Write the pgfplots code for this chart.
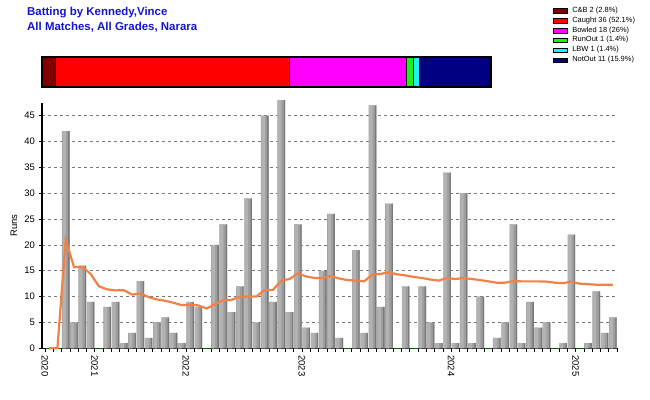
\documentclass[border=0pt]{standalone}
\usepackage{fontspec}
\setmainfont{Liberation Sans}
\usepackage{pgfplots}
\usepackage{pgfplotstable}
\pgfplotsset{compat=1.18}
\definecolor{titleblue}{RGB}{20,20,205}
\definecolor{avgorange}{RGB}{240,130,72}
\definecolor{barL}{RGB}{178,178,178}
\definecolor{barM}{RGB}{158,158,158}
\definecolor{barR}{RGB}{122,122,122}
\definecolor{zerogreen}{RGB}{0,100,0}
\definecolor{gridgray}{RGB}{120,120,120}
\definecolor{cbcol}{RGB}{128,0,0}
\definecolor{caughtcol}{RGB}{255,0,0}
\definecolor{bowledcol}{RGB}{255,0,255}
\definecolor{runoutcol}{RGB}{30,240,30}
\definecolor{lbwcol}{RGB}{30,240,240}
\definecolor{notoutcol}{RGB}{0,0,128}
\pgfplotstableread{
x runs
0 0
1 0
2 42
3 5
4 16
5 9
6 0
7 8
8 9
9 1
10 3
11 13
12 2
13 5
14 6
15 3
16 1
17 9
18 8
19 0
20 20
21 24
22 7
23 12
24 29
25 5
26 45
27 9
28 48
29 7
30 24
31 4
32 3
33 15
34 26
35 2
36 0
37 19
38 3
39 47
40 8
41 28
42 0
43 12
44 0
45 12
46 5
47 1
48 34
49 1
50 30
51 1
52 10
53 0
54 2
55 5
56 24
57 1
58 9
59 4
60 5
61 0
62 1
63 22
64 0
65 1
66 11
67 3
68 6
}\runstable
\begin{document}
\begin{tikzpicture}
\path[use as bounding box] (0,0) rectangle (650bp,400bp);
\node[anchor=base west, inner sep=0pt, text=titleblue, font=\bfseries\fontsize{11.5}{13}\selectfont] at (27bp,384bp) {Batting by Kennedy,Vince};
\node[anchor=base west, inner sep=0pt, text=titleblue, font=\bfseries\fontsize{11.5}{13}\selectfont] at (27bp,369bp) {All Matches, All Grades, Narara};

\begin{axis}[
  at={(42bp,51.7bp)}, anchor=south west,
  scale only axis, width=576bp, height=245.5bp,
  xmin=-0.862, xmax=68.62, ymin=0, ymax=47.5,
  clip=false,
  axis x line*=bottom, axis y line*=left,
  axis line style={line width=1.5bp, black, -},
  ytick={0,5,...,45},
  ymajorgrids,
  grid style={gridgray, dash pattern=on 3bp off 3bp, line width=0.6bp},
  xtick={-0.5,5.5,16.5,30.5,48.5,63.5},
  xticklabels={2020,2021,2022,2023,2024,2025},
  minor xtick={-0.5,0.5,...,68.5},
  tick align=outside, major tick length=3.5bp, minor tick length=3.5bp,
  tick style={black, line width=0.6bp},
  xticklabel style={rotate=-90, anchor=west, font=\fontsize{9.5}{11}\selectfont},
  yticklabel style={font=\fontsize{9.5}{11}\selectfont},
  /pgf/number format/assume math mode=true,
  every axis y label/.style={at={(axis description cs:-0.0486,0.5)}, rotate=90, anchor=center, font=\fontsize{9.5}{11}\selectfont},
  ylabel={Runs},
]
\addplot[ybar, bar width=0.92, bar shift=0, draw=none, fill=barM] table[x=x, y=runs] {\runstable};
\addplot[ybar, bar width=0.42, bar shift=-0.2, draw=none, fill=barL] table[x=x, y=runs] {\runstable};
\addplot[ybar, bar width=0.16, bar shift=0.38, draw=none, fill=barR] table[x=x, y=runs] {\runstable};
\addplot[ybar, bar width=0.92, bar shift=0, draw=zerogreen, line width=1.2bp, fill=none] coordinates {
(0,0)(1,0)(6,0)(19,0)(36,0)(42,0)(44,0)(53,0)(61,0)(64,0)};
\addplot[avgorange, line width=2.2bp, mark=none] coordinates {
(0,0)(1,0)(2,21)(3,15.7)(4,15.75)(5,14.4)(6,12)(7,11.4)(8,11.2)(9,11.25)(10,10.4)(11,10.6)(12,9.9)(13,9.45)(14,9.2)(15,8.8)(16,8.35)(17,8.4)(18,8.3)(19,7.7)
(20,8.5)(21,9.3)(22,9.35)(23,10.0)(24,10.05)(25,10.0)(26,11.3)(27,11.3)(28,13.1)(29,13.4)(30,14.5)(31,13.9)(32,13.6)(33,13.6)(34,14.0)(35,13.5)(36,13.2)(37,13.1)(38,12.95)(39,14.3)
(40,14.4)(41,14.7)(42,14.3)(43,14.1)(44,13.8)(45,13.6)(46,13.3)(47,13.1)(48,13.6)(49,13.4)(50,13.6)(51,13.4)(52,13.2)(53,12.95)(54,12.7)(55,12.7)(56,13.0)(57,12.95)(58,12.95)(59,12.95)
(60,12.9)(61,12.7)(62,12.6)(63,12.9)(64,12.5)(65,12.4)(66,12.3)(67,12.3)(68,12.3)};
\end{axis}

\begin{axis}[
  at={(42bp,313bp)}, anchor=south west,
  scale only axis, width=449bp, height=30bp,
  xbar stacked, bar width=30bp,
  xmin=0, xmax=69, ymin=-0.5, ymax=0.5,
  ticks=none, axis on top,
  axis line style={line width=1.5bp, black},
  legend image code/.code={\draw[#1, draw=black, line width=0.5bp] (0bp,-2.3bp) rectangle (14.6bp,2.3bp);},
  legend cell align=left,
  legend style={at={(1.1374,2.707)}, anchor=north west, draw=none, fill=none,
    inner sep=0pt, outer sep=0pt, row sep=0pt, column sep=4.5bp,
    font=\fontsize{7.5}{9}\selectfont,
    nodes={inner sep=0pt, text height=6.5bp, text depth=3.4bp}},
]
\addplot[fill=cbcol, draw=black, line width=0.5bp] coordinates {(2,0)};
\addplot[fill=caughtcol, draw=black, line width=0.5bp] coordinates {(36,0)};
\addplot[fill=bowledcol, draw=black, line width=0.5bp] coordinates {(18,0)};
\addplot[fill=runoutcol, draw=black, line width=0.5bp] coordinates {(1,0)};
\addplot[fill=lbwcol, draw=black, line width=0.5bp] coordinates {(1,0)};
\addplot[fill=notoutcol, draw=black, line width=0.5bp] coordinates {(11,0)};
\legend{C\&B 2 (2.8\%), Caught 36 (52.1\%), Bowled 18 (26\%), RunOut 1 (1.4\%), LBW 1 (1.4\%), NotOut 11 (15.9\%)}
\end{axis}
\end{tikzpicture}
\end{document}
